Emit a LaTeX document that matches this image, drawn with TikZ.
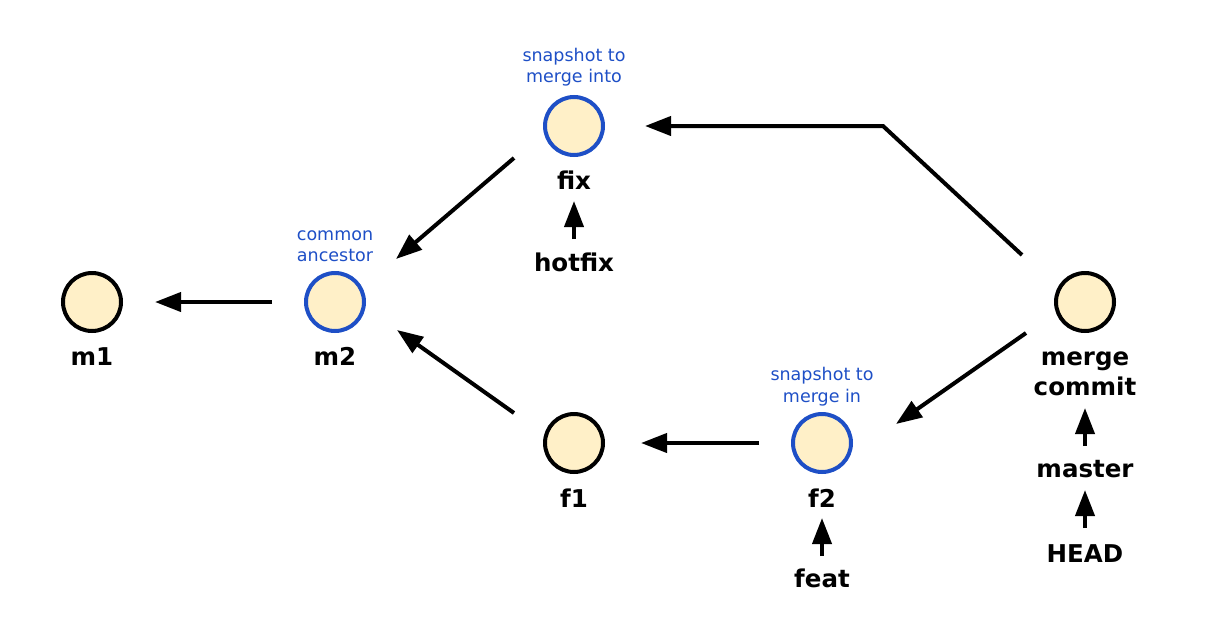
\documentclass[tikz,border=0pt]{standalone}
\usepackage{fontspec}
\setmainfont{DejaVu Sans}
\usetikzlibrary{arrows.meta}
\definecolor{cream}{HTML}{FFF0C8}
\definecolor{noteblue}{HTML}{1E4FC6}
\begin{document}
\begin{tikzpicture}[x=1pt,y=-1pt,
  commit/.style={circle,draw=black,fill=cream,line width=4pt,minimum size=58pt,inner sep=0pt},
  hicommit/.style={commit,draw=noteblue},
  lbl/.style={anchor=base,font=\fontsize{24.5}{28}\selectfont\bfseries,inner sep=0pt},
  note/.style={anchor=base,font=\fontsize{17.5}{21}\selectfont,text=noteblue,inner sep=0pt},
  conn/.style={line width=4pt,-{Triangle[length=26pt,width=19pt]}}]
\useasboundingbox (0,0) rectangle (1227,632);
% commits
\node[commit]   (m1) at (92,302) {};
\node[hicommit] (m2) at (335,302) {};
\node[hicommit] (fix) at (574,126) {};
\node[commit]   (f1) at (574,443) {};
\node[hicommit] (f2) at (822,443) {};
\node[commit]   (mc) at (1085,302) {};
% labels
\node[lbl] (lm1) at (92,365) {m1};
\node[lbl] (lm2) at (335,365) {m2};
\node[lbl] (lfix) at (574,189) {fix};
\node[lbl] (lhot) at (574,271) {hotfix};
\node[lbl] (lf1) at (574,507) {f1};
\node[lbl] (lf2) at (822,507) {f2};
\node[lbl] (lfeat) at (822,587) {feat};
\node[lbl] (lmc1) at (1085,365) {merge};
\node[lbl] (lmc2) at (1085,395) {commit};
\node[lbl] (lmaster) at (1085,477) {master};
\node[lbl] (lhead) at (1085,562) {HEAD};
% notes
\node[note] (n1a) at (574,61) {snapshot to};
\node[note] (n1b) at (574,82) {merge into};
\node[note] (n2a) at (335,240) {common};
\node[note] (n2b) at (335,261) {ancestor};
\node[note] (n3a) at (822,380) {snapshot to};
\node[note] (n3b) at (822,402) {merge in};
% connector end points
\coordinate (a1s) at (272,302); \coordinate (a1e) at (155,302);
\coordinate (a2s) at (514,158); \coordinate (a2e) at (396,259);
\coordinate (a3s) at (514,413); \coordinate (a3e) at (397,330);
\coordinate (a4s) at (1022,255); \coordinate (a4c) at (883,126); \coordinate (a4e) at (645,126);
\coordinate (a5s) at (1026,333); \coordinate (a5e) at (896,424);
\coordinate (a6s) at (759,443); \coordinate (a6e) at (641,443);
\coordinate (r1s) at (574,239); \coordinate (r1e) at (574,201);
\coordinate (r2s) at (822,556); \coordinate (r2e) at (822,518);
\coordinate (r3s) at (1085,446); \coordinate (r3e) at (1085,408);
\coordinate (r4s) at (1085,528); \coordinate (r4e) at (1085,490);
% connectors
\draw[conn] (a1s) -- (a1e);
\draw[conn] (a2s) -- (a2e);
\draw[conn] (a3s) -- (a3e);
\draw[conn,line join=miter] (a4s) -- (a4c) -- (a4e);
\draw[conn] (a5s) -- (a5e);
\draw[conn] (a6s) -- (a6e);
% ref arrows
\draw[conn] (r1s) -- (r1e);
\draw[conn] (r2s) -- (r2e);
\draw[conn] (r3s) -- (r3e);
\draw[conn] (r4s) -- (r4e);
\end{tikzpicture}
\end{document}
